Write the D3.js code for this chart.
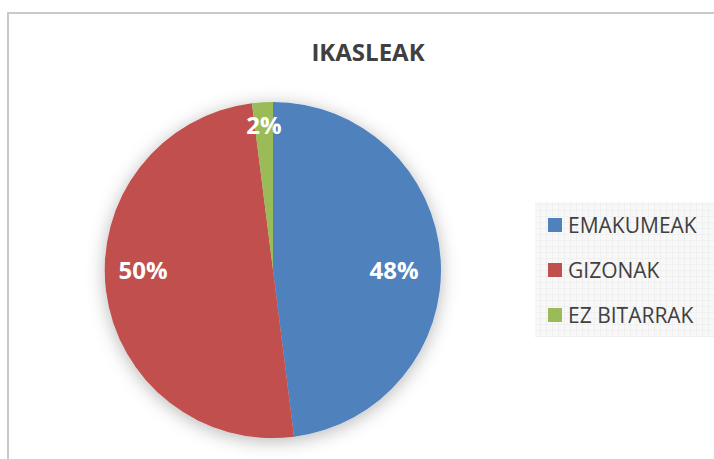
<!DOCTYPE html>
<html>
<head>
<meta charset="utf-8">
<script src="https://cdn.jsdelivr.net/npm/d3@7"></script>
<style>
  body { margin: 0; background: #fff; }
  svg { display: block; }
</style>
</head>
<body>
<svg id="chart" width="714" height="459"></svg>
<script>
// data
let categories = ["EMAKUMEAK", "GIZONAK", "EZ BITARRAK"]
let values = [48, 50, 2]
let colors = ["#4F81BD", "#C0504D", "#9BBB59"]
let title = "IKASLEAK"

let svg = d3.select("#chart")
let cx = 273, cy = 270, radius = 168

// chart frame (top and left edges visible, rest clipped off)
svg.append("rect")
    .attr("x", 8).attr("y", 13)
    .attr("width", 730).attr("height", 470)
    .attr("fill", "#fff")
    .attr("stroke", "#c9c9c9")
    .attr("stroke-width", 2)

let defs = svg.append("defs")
let shadow = defs.append("filter")
    .attr("id", "shadow")
    .attr("x", "-30%").attr("y", "-30%")
    .attr("width", "160%").attr("height", "160%")
shadow.append("feDropShadow")
    .attr("dx", 0).attr("dy", 3)
    .attr("stdDeviation", 9)
    .attr("flood-color", "#000")
    .attr("flood-opacity", 0.28)

let grid = defs.append("pattern")
    .attr("id", "grid")
    .attr("width", 6).attr("height", 6)
    .attr("patternUnits", "userSpaceOnUse")
grid.append("rect").attr("width", 6).attr("height", 6).attr("fill", "#f8f8f8")
grid.append("path").attr("d", "M0 0.5H6M0.5 0V6")
    .attr("stroke", "#f0f0f0").attr("stroke-width", 1)

svg.append("text")
    .attr("x", 368).attr("y", 61)
    .attr("text-anchor", "middle")
    .attr("font-family", "Open Sans, sans-serif")
    .attr("font-weight", 700)
    .attr("font-size", 24)
    .attr("fill", "#404040")
    .text(title)

let pie = d3.pie().sort(null).value(d => d)
let arcs = pie(values)
let arc = d3.arc().innerRadius(0).outerRadius(radius)

let g = svg.append("g").attr("transform", `translate(${cx},${cy})`)

g.append("g")
    .attr("filter", "url(#shadow)")
    .selectAll("path")
    .data(arcs)
    .enter()
    .append("path")
    .attr("d", arc)
    .attr("fill", (d, i) => colors[i])

// data labels: small slices on the mid angle, big ones level with the centre
let total = d3.sum(values)
g.selectAll(".lbl")
    .data(arcs)
    .enter()
    .append("text")
    .attr("class", "lbl")
    .attr("transform", d => {
        let mid = (d.startAngle + d.endAngle) / 2
        let big = d.value / total > 0.25
        let rl = big ? radius * 0.75 : radius * 0.86
        let a = big ? (Math.sin(mid) > 0 ? Math.PI / 2 : -Math.PI / 2) : mid
        let x = rl * Math.sin(a)
        let y = -rl * Math.cos(a)
        if (big) x += Math.sin(mid) > 0 ? -5 : -4
        return `translate(${x},${y})`
    })
    .attr("text-anchor", "middle")
    .attr("dy", "0.36em")
    .attr("font-family", "Open Sans, sans-serif")
    .attr("font-weight", 700)
    .attr("font-size", 24)
    .attr("fill", "#fff")
    .text(d => Math.round(d.value / total * 100) + "%")

// legend
let legend = svg.append("g")
legend.append("rect")
    .attr("x", 535).attr("y", 202)
    .attr("width", 185).attr("height", 135)
    .attr("fill", "url(#grid)")

let y = d3.scalePoint().domain(categories).range([225, 315])

let item = legend.selectAll(".item")
    .data(categories)
    .enter()
    .append("g")
    .attr("class", "item")
    .attr("transform", d => `translate(548,${y(d)})`)

item.append("rect")
    .attr("x", 0).attr("y", -7)
    .attr("width", 14).attr("height", 14)
    .attr("fill", (d, i) => colors[i])

item.append("text")
    .attr("x", 20).attr("dy", "0.36em")
    .attr("font-family", "Open Sans, sans-serif")
    .attr("font-size", 21)
    .attr("fill", "#404040")
    .text(d => d)
</script>
</body>
</html>
